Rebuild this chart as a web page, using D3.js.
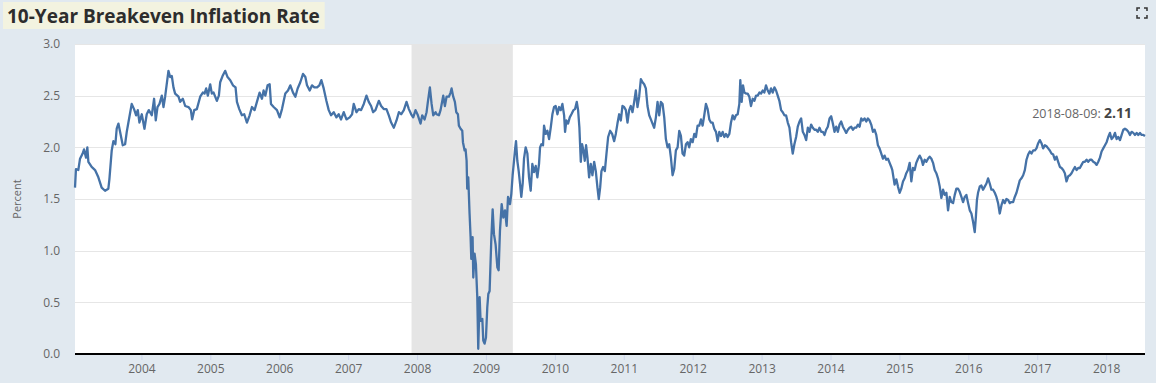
<!DOCTYPE html>
<html>
<head>
<meta charset="utf-8">
<script src="https://cdn.jsdelivr.net/npm/d3@7"></script>
<style>
  body { margin: 0; background: #e1e9f0; }
  svg { display: block; font-family: "Open Sans", sans-serif; }
</style>
</head>
<body>
<script>
// 10-year breakeven: [decimal year, percent]
var breakeven = [
  [2003.036,1.61],[2003.050,1.79],[2003.084,1.78],[2003.109,1.89],[2003.147,1.94],[2003.167,1.98],[2003.196,1.90],[2003.215,2.00],
  [2003.230,1.86],[2003.278,1.81],[2003.327,1.78],[2003.375,1.71],[2003.423,1.61],[2003.472,1.58],[2003.520,1.60],[2003.535,1.69],
  [2003.569,1.97],[2003.593,2.06],[2003.622,2.03],[2003.641,2.18],[2003.666,2.23],[2003.690,2.15],[2003.729,2.02],[2003.763,2.03],
  [2003.787,2.15],[2003.811,2.24],[2003.859,2.42],[2003.893,2.37],[2003.923,2.31],[2003.947,2.36],[2003.971,2.24],[2004.005,2.32],
  [2004.044,2.18],[2004.077,2.32],[2004.107,2.36],[2004.150,2.31],[2004.184,2.47],[2004.208,2.26],[2004.233,2.39],[2004.262,2.42],
  [2004.296,2.50],[2004.320,2.39],[2004.344,2.49],[2004.392,2.74],[2004.417,2.68],[2004.441,2.69],[2004.465,2.58],[2004.489,2.52],
  [2004.538,2.49],[2004.562,2.44],[2004.601,2.47],[2004.635,2.40],[2004.683,2.39],[2004.717,2.36],[2004.736,2.27],[2004.766,2.36],
  [2004.804,2.37],[2004.853,2.49],[2004.891,2.53],[2004.916,2.52],[2004.940,2.57],[2004.964,2.50],[2004.998,2.61],[2005.022,2.52],
  [2005.047,2.53],[2005.095,2.45],[2005.124,2.50],[2005.143,2.63],[2005.177,2.69],[2005.216,2.74],[2005.250,2.68],[2005.289,2.65],
  [2005.328,2.60],[2005.366,2.58],[2005.386,2.44],[2005.420,2.37],[2005.458,2.31],[2005.492,2.32],[2005.531,2.24],[2005.570,2.31],
  [2005.604,2.39],[2005.642,2.36],[2005.676,2.44],[2005.715,2.53],[2005.749,2.47],[2005.773,2.55],[2005.798,2.50],[2005.831,2.60],
  [2005.861,2.61],[2005.880,2.42],[2005.919,2.39],[2005.967,2.36],[2006.006,2.29],[2006.040,2.37],[2006.088,2.52],[2006.127,2.55],
  [2006.161,2.60],[2006.200,2.53],[2006.234,2.49],[2006.267,2.57],[2006.306,2.63],[2006.345,2.71],[2006.379,2.68],[2006.403,2.60],
  [2006.442,2.55],[2006.476,2.60],[2006.510,2.58],[2006.549,2.58],[2006.582,2.60],[2006.611,2.65],[2006.645,2.57],[2006.684,2.45],
  [2006.718,2.36],[2006.752,2.31],[2006.791,2.34],[2006.830,2.29],[2006.863,2.32],[2006.897,2.27],[2006.936,2.34],[2006.975,2.27],
  [2007.023,2.29],[2007.057,2.32],[2007.081,2.42],[2007.120,2.34],[2007.154,2.37],[2007.188,2.36],[2007.227,2.42],[2007.266,2.50],
  [2007.299,2.44],[2007.333,2.40],[2007.362,2.34],[2007.396,2.36],[2007.445,2.45],[2007.479,2.40],[2007.517,2.37],[2007.556,2.37],
  [2007.590,2.31],[2007.624,2.24],[2007.663,2.19],[2007.702,2.26],[2007.736,2.34],[2007.769,2.32],[2007.808,2.36],[2007.847,2.44],
  [2007.881,2.37],[2007.915,2.32],[2007.944,2.29],[2007.978,2.36],[2008.012,2.31],[2008.051,2.23],[2008.075,2.31],[2008.109,2.27],
  [2008.138,2.34],[2008.157,2.44],[2008.186,2.58],[2008.211,2.42],[2008.235,2.31],[2008.269,2.34],[2008.283,2.32],[2008.317,2.31],
  [2008.341,2.36],[2008.380,2.50],[2008.404,2.40],[2008.428,2.49],[2008.462,2.49],[2008.486,2.53],[2008.501,2.57],[2008.525,2.49],
  [2008.549,2.44],[2008.569,2.34],[2008.593,2.32],[2008.607,2.21],[2008.632,2.18],[2008.656,2.16],[2008.666,2.05],[2008.690,1.97],
  [2008.704,1.98],[2008.719,1.87],[2008.728,1.60],[2008.743,1.71],[2008.762,1.36],[2008.777,1.13],[2008.787,0.92],[2008.806,1.13],
  [2008.816,0.74],[2008.835,0.97],[2008.854,0.87],[2008.874,0.55],[2008.888,0.05],[2008.908,0.55],[2008.922,0.32],[2008.947,0.34],
  [2008.961,0.13],[2008.980,0.10],[2009.000,0.16],[2009.019,0.45],[2009.034,0.58],[2009.053,0.61],[2009.077,1.10],[2009.097,1.40],
  [2009.116,1.16],[2009.140,1.06],[2009.165,0.84],[2009.184,0.81],[2009.203,1.19],[2009.228,1.45],[2009.252,1.32],[2009.276,1.39],
  [2009.300,1.24],[2009.320,1.52],[2009.349,1.45],[2009.368,1.55],[2009.387,1.73],[2009.407,1.87],[2009.421,1.97],[2009.436,2.06],
  [2009.455,1.87],[2009.475,1.77],[2009.494,1.65],[2009.513,1.52],[2009.533,1.65],[2009.552,1.89],[2009.576,2.00],[2009.601,1.94],
  [2009.625,1.71],[2009.649,1.58],[2009.673,1.84],[2009.697,1.76],[2009.722,1.82],[2009.746,1.71],[2009.770,1.84],[2009.785,2.00],
  [2009.804,2.03],[2009.828,2.02],[2009.843,2.21],[2009.867,2.13],[2009.891,2.16],[2009.916,2.08],[2009.940,2.19],[2009.964,2.32],
  [2009.988,2.39],[2010.012,2.40],[2010.037,2.32],[2010.061,2.39],[2010.085,2.36],[2010.109,2.42],[2010.134,2.31],[2010.148,2.15],
  [2010.167,2.26],[2010.192,2.23],[2010.216,2.29],[2010.240,2.32],[2010.269,2.36],[2010.293,2.37],[2010.318,2.44],[2010.337,2.36],
  [2010.356,2.19],[2010.376,1.86],[2010.395,2.03],[2010.415,1.97],[2010.434,1.87],[2010.453,2.02],[2010.473,1.90],[2010.497,1.71],
  [2010.521,1.84],[2010.545,1.73],[2010.570,1.86],[2010.594,1.77],[2010.618,1.61],[2010.637,1.50],[2010.657,1.61],[2010.676,1.77],
  [2010.700,1.81],[2010.725,1.77],[2010.749,1.94],[2010.773,2.10],[2010.802,2.16],[2010.831,2.13],[2010.860,2.06],[2010.884,2.13],
  [2010.908,2.23],[2010.933,2.32],[2010.957,2.26],[2010.981,2.40],[2011.005,2.39],[2011.030,2.36],[2011.054,2.24],[2011.078,2.36],
  [2011.102,2.40],[2011.126,2.34],[2011.151,2.44],[2011.175,2.55],[2011.199,2.39],[2011.223,2.49],[2011.248,2.66],[2011.272,2.63],
  [2011.296,2.61],[2011.320,2.57],[2011.344,2.40],[2011.369,2.31],[2011.393,2.27],[2011.417,2.23],[2011.441,2.19],[2011.466,2.29],
  [2011.490,2.44],[2011.514,2.31],[2011.538,2.44],[2011.563,2.42],[2011.587,2.29],[2011.611,2.08],[2011.635,2.00],[2011.659,2.03],
  [2011.684,1.90],[2011.708,1.73],[2011.732,1.79],[2011.756,1.97],[2011.781,2.00],[2011.805,2.16],[2011.829,2.11],[2011.853,1.94],
  [2011.877,1.92],[2011.902,2.03],[2011.926,2.05],[2011.950,2.00],[2011.974,2.08],[2011.999,2.05],[2012.023,2.13],[2012.047,2.10],
  [2012.071,2.21],[2012.095,2.21],[2012.120,2.27],[2012.144,2.21],[2012.168,2.31],[2012.192,2.42],[2012.217,2.37],[2012.241,2.27],
  [2012.265,2.24],[2012.289,2.24],[2012.313,2.18],[2012.338,2.15],[2012.362,2.06],[2012.386,2.15],[2012.410,2.11],[2012.435,2.15],
  [2012.459,2.10],[2012.483,2.13],[2012.507,2.10],[2012.532,2.13],[2012.556,2.24],[2012.580,2.31],[2012.604,2.27],[2012.628,2.31],
  [2012.653,2.32],[2012.677,2.42],[2012.691,2.65],[2012.711,2.44],[2012.730,2.60],[2012.750,2.53],[2012.774,2.52],[2012.798,2.52],
  [2012.822,2.49],[2012.846,2.40],[2012.871,2.47],[2012.895,2.45],[2012.919,2.50],[2012.943,2.50],[2012.968,2.53],[2012.992,2.52],
  [2013.016,2.55],[2013.040,2.53],[2013.064,2.60],[2013.089,2.55],[2013.113,2.52],[2013.137,2.57],[2013.161,2.53],[2013.186,2.58],
  [2013.210,2.55],[2013.234,2.50],[2013.258,2.45],[2013.283,2.36],[2013.307,2.34],[2013.331,2.31],[2013.355,2.31],[2013.380,2.24],
  [2013.404,2.19],[2013.428,2.05],[2013.452,1.94],[2013.476,2.03],[2013.501,2.10],[2013.525,2.20],[2013.550,2.25],[2013.574,2.28],
  [2013.598,2.15],[2013.622,2.12],[2013.647,2.07],[2013.671,2.19],[2013.695,2.15],[2013.719,2.22],[2013.743,2.19],[2013.768,2.17],
  [2013.792,2.17],[2013.816,2.15],[2013.840,2.19],[2013.865,2.15],[2013.889,2.15],[2013.913,2.12],[2013.937,2.17],[2013.961,2.20],
  [2013.986,2.28],[2014.010,2.30],[2014.034,2.23],[2014.058,2.15],[2014.083,2.20],[2014.107,2.15],[2014.131,2.22],[2014.155,2.25],
  [2014.180,2.20],[2014.204,2.17],[2014.228,2.14],[2014.252,2.17],[2014.276,2.19],[2014.301,2.20],[2014.325,2.17],[2014.349,2.19],
  [2014.373,2.19],[2014.398,2.22],[2014.422,2.20],[2014.446,2.28],[2014.470,2.26],[2014.494,2.28],[2014.519,2.25],[2014.543,2.28],
  [2014.567,2.26],[2014.591,2.22],[2014.616,2.15],[2014.640,2.17],[2014.664,2.12],[2014.688,2.02],[2014.712,1.99],[2014.737,1.94],
  [2014.761,1.89],[2014.785,1.92],[2014.809,1.88],[2014.834,1.89],[2014.858,1.85],[2014.882,1.81],[2014.897,1.78],[2014.916,1.70],
  [2014.930,1.64],[2014.955,1.69],[2014.979,1.62],[2015.003,1.56],[2015.027,1.60],[2015.052,1.67],[2015.076,1.70],[2015.100,1.75],
  [2015.124,1.78],[2015.149,1.85],[2015.173,1.67],[2015.197,1.80],[2015.221,1.78],[2015.245,1.85],[2015.270,1.89],[2015.294,1.92],
  [2015.318,1.89],[2015.342,1.83],[2015.367,1.88],[2015.391,1.86],[2015.415,1.89],[2015.439,1.91],[2015.464,1.89],[2015.488,1.85],
  [2015.512,1.78],[2015.536,1.75],[2015.560,1.70],[2015.585,1.62],[2015.609,1.51],[2015.633,1.59],[2015.657,1.54],[2015.682,1.56],
  [2015.706,1.39],[2015.730,1.52],[2015.754,1.47],[2015.779,1.46],[2015.803,1.54],[2015.827,1.60],[2015.851,1.60],[2015.875,1.57],
  [2015.900,1.52],[2015.924,1.47],[2015.948,1.52],[2015.972,1.54],[2015.997,1.46],[2016.021,1.39],[2016.045,1.36],[2016.069,1.28],
  [2016.093,1.18],[2016.110,1.33],[2016.125,1.49],[2016.141,1.56],[2016.166,1.62],[2016.190,1.63],[2016.214,1.59],[2016.238,1.62],
  [2016.263,1.65],[2016.287,1.70],[2016.311,1.65],[2016.335,1.59],[2016.359,1.59],[2016.384,1.56],[2016.408,1.52],[2016.432,1.46],
  [2016.456,1.36],[2016.481,1.44],[2016.505,1.49],[2016.529,1.46],[2016.553,1.50],[2016.578,1.49],[2016.602,1.46],[2016.626,1.47],
  [2016.650,1.47],[2016.674,1.52],[2016.699,1.56],[2016.723,1.62],[2016.747,1.68],[2016.771,1.70],[2016.796,1.73],[2016.820,1.78],
  [2016.844,1.88],[2016.868,1.93],[2016.892,1.96],[2016.917,1.94],[2016.941,1.97],[2016.965,1.97],[2016.989,1.99],[2017.014,2.04],
  [2017.038,2.07],[2017.062,2.04],[2017.086,1.99],[2017.111,2.02],[2017.135,2.01],[2017.159,1.99],[2017.183,1.97],[2017.207,1.94],
  [2017.232,1.93],[2017.256,1.88],[2017.280,1.91],[2017.304,1.86],[2017.329,1.81],[2017.353,1.80],[2017.377,1.78],[2017.401,1.75],
  [2017.425,1.67],[2017.450,1.72],[2017.474,1.73],[2017.498,1.75],[2017.522,1.78],[2017.547,1.81],[2017.571,1.78],[2017.595,1.80],
  [2017.619,1.80],[2017.643,1.83],[2017.668,1.86],[2017.692,1.86],[2017.716,1.88],[2017.740,1.86],[2017.765,1.88],[2017.789,1.88],
  [2017.813,1.86],[2017.837,1.85],[2017.862,1.83],[2017.886,1.86],[2017.910,1.90],[2017.934,1.96],[2017.958,1.99],[2017.983,2.02],
  [2018.007,2.05],[2018.031,2.10],[2018.055,2.14],[2018.079,2.08],[2018.104,2.10],[2018.128,2.14],[2018.152,2.08],[2018.176,2.10],
  [2018.201,2.07],[2018.225,2.12],[2018.249,2.17],[2018.273,2.18],[2018.297,2.17],[2018.322,2.15],[2018.346,2.12],[2018.370,2.15],
  [2018.394,2.14],[2018.419,2.12],[2018.443,2.14],[2018.467,2.12],[2018.491,2.14],[2018.515,2.12],[2018.540,2.12],[2018.564,2.11]
];

var recession = [2007.92, 2009.39];
var yearTicks = d3.range(2004, 2019);
var pctTicks = [0, 0.5, 1.0, 1.5, 2.0, 2.5, 3.0];
var lastDate = "2018-08-09";
var lastValue = 2.11;
var chartTitle = "10-Year Breakeven Inflation Rate";
var yLabel = "Percent";

var svgWidth = 1156;
var svgHeight = 383;

var margin = {
  top: 44,
  right: 11,
  bottom: 29,
  left: 75
};

var width = svgWidth - margin.left - margin.right;
var height = svgHeight - margin.top - margin.bottom;

var svg = d3.select("body")
  .append("svg")
  .attr("width", svgWidth)
  .attr("height", svgHeight);

// title box
var titleGroup = svg.append("g");
var titleBox = titleGroup.append("rect")
  .attr("x", 3)
  .attr("y", 2)
  .attr("height", 27)
  .attr("fill", "#f3f3e0");
var titleText = titleGroup.append("text")
  .attr("x", 7)
  .attr("y", 23)
  .attr("fill", "#2d2d2d")
  .style("font-size", "19px")
  .style("font-weight", "bold")
  .text(chartTitle);
titleBox.attr("width", titleText.node().getComputedTextLength() + 9);

// fullscreen icon, top right
svg.append("path")
  .attr("d", "M1137,11 v-3 h3 M1144,8 h3 v3 M1147,15 v3 h-3 M1140,18 h-3 v-3")
  .attr("fill", "none")
  .attr("stroke", "#333")
  .attr("stroke-width", 1.5);

var chartGroup = svg.append("g")
  .attr("transform", `translate(${margin.left}, ${margin.top})`);

var xScale = d3.scaleLinear()
  .domain(d3.extent(breakeven, d => d[0]))
  .range([0, width]);

var yScale = d3.scaleLinear()
  .domain([0, 3])
  .range([height, 0]);

chartGroup.append("rect")
  .attr("width", width)
  .attr("height", height)
  .attr("fill", "#ffffff");

// gridlines
chartGroup.append("g")
  .selectAll("line")
  .data(pctTicks.slice(1))
  .enter()
  .append("line")
  .attr("x1", 0)
  .attr("x2", width)
  .attr("y1", d => Math.round(yScale(d)) + 0.5)
  .attr("y2", d => Math.round(yScale(d)) + 0.5)
  .attr("stroke", "#e6e6e6");

// recession shading
chartGroup.append("rect")
  .attr("x", xScale(recession[0]))
  .attr("y", 0)
  .attr("width", xScale(recession[1]) - xScale(recession[0]))
  .attr("height", height)
  .attr("fill", "#e5e5e5");

// y axis labels
var leftAxis = d3.axisLeft(yScale)
  .tickValues(pctTicks)
  .tickFormat(d3.format(".1f"))
  .tickSize(0)
  .tickPadding(15);

var yAxisG = chartGroup.append("g").call(leftAxis);
yAxisG.select(".domain").remove();
yAxisG.selectAll("text")
  .attr("fill", "#666")
  .style("font-size", "12px")
  .style("font-family", "Open Sans, sans-serif");

// x axis
var bottomAxis = d3.axisBottom(xScale)
  .tickValues(yearTicks)
  .tickFormat(d3.format("d"))
  .tickSize(6)
  .tickPadding(4);

var xAxisG = chartGroup.append("g")
  .attr("transform", `translate(0, ${height})`)
  .call(bottomAxis);
xAxisG.select(".domain").remove();
xAxisG.selectAll("line").attr("stroke", "#ccd6eb");
xAxisG.selectAll("text")
  .attr("fill", "#666")
  .style("font-size", "12px")
  .style("font-family", "Open Sans, sans-serif");

// the line
var line = d3.line()
  .x(d => xScale(d[0]))
  .y(d => yScale(d[1]));

chartGroup.append("path")
  .datum(breakeven)
  .attr("d", line)
  .attr("fill", "none")
  .attr("stroke", "#4572a7")
  .attr("stroke-width", 2.3)
  .attr("stroke-linejoin", "round");

// baseline
chartGroup.append("line")
  .attr("x1", 0)
  .attr("x2", width)
  .attr("y1", height)
  .attr("y2", height)
  .attr("stroke", "#000")
  .attr("stroke-width", 2);

// y axis title
chartGroup.append("text")
  .attr("transform", "rotate(-90)")
  .attr("x", 0 - height / 2)
  .attr("y", 0 - margin.left + 21)
  .attr("text-anchor", "middle")
  .attr("fill", "#666")
  .style("font-size", "11px")
  .text(yLabel);

// last observation label
var lastLabel = chartGroup.append("text")
  .attr("x", width - 13)
  .attr("y", yScale(lastValue) - 18)
  .attr("text-anchor", "end");
lastLabel.append("tspan")
  .attr("fill", "#666")
  .style("font-size", "12.5px")
  .text(lastDate + ": ");
lastLabel.append("tspan")
  .attr("fill", "#444")
  .style("font-size", "14px")
  .style("font-weight", "bold")
  .text(d3.format(".2f")(lastValue));
</script>
</body>
</html>
